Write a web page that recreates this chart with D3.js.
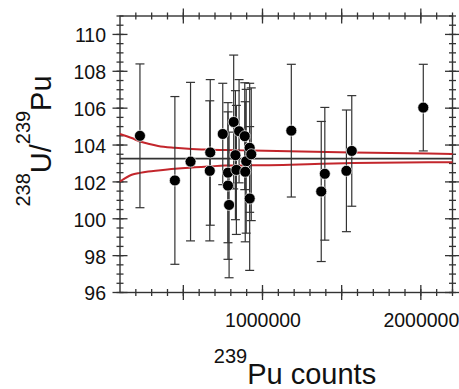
<!DOCTYPE html>
<html>
<head>
<meta charset="utf-8">
<script src="https://cdn.jsdelivr.net/npm/d3@7"></script>
<style>
  body { margin: 0; background: #fff; }
  svg text { font-family: "Liberation Sans", Arial, sans-serif; fill: #111; }
</style>
</head>
<body>
<div id="chart"></div>
<script>
// 239Pu counts for each measurement
var puCounts = [226000, 446600, 545500, 670000, 667000, 749000, 782000, 782000, 789000,
	818000, 829000, 835000, 852000, 888000, 897000, 891000, 919000, 929000, 919000,
	1182000, 1371000, 1393600, 1530000, 1563800, 2015500];
// 238U/239Pu ratio
var ratio = [104.5, 102.08, 103.1, 103.6, 102.6, 104.6, 102.5, 101.8, 100.75,
	105.25, 103.45, 102.65, 104.75, 104.48, 103.12, 102.55, 103.85, 103.5, 101.1,
	104.78, 101.48, 102.44, 102.6, 103.68, 106.03];
// half length of error bars
var ratioErr = [3.9, 4.55, 4.3, 3.95, 3.8, 2.75, 3.8, 4.0, 3.95,
	3.63, 3.5, 3.5, 2.8, 2.9, 3.9, 3.8, 3.5, 3.6, 3.9,
	3.6, 3.8, 3.6, 3.3, 3.0, 2.35];

var meanRatio = 103.26;

// red band
var bandX = [100000, 173700, 226000, 278300, 341000, 446600, 488800, 614800, 656400, 761600, 938000, 1568000, 2200000];
var bandUpper = [104.6, 104.38, 104.19, 104.07, 103.95, 103.85, 103.82, 103.76, 103.75, 103.73, 103.7, 103.59, 103.52];
var bandLower = [102.02, 102.39, 102.49, 102.56, 102.62, 102.71, 102.74, 102.81, 102.83, 102.89, 102.9, 103.02, 103.07];

var yMajorTicks = [96, 98, 100, 102, 104, 106, 108, 110];
var yMinorTicks = d3.range(96, 111.01, 0.5);
var xMajorTicks = [500000, 1000000, 1500000, 2000000];
var xMinorTicks = d3.range(200000, 2200001, 100000);
var xLabelTicks = [1000000, 2000000];

var width = 459, height = 389;
var margin = {top: 16, right: 6.5, bottom: 96.5, left: 120};
var w = width - margin.left - margin.right,
	h = height - margin.top - margin.bottom;

var svg = d3.select("#chart").append("svg")
	.attr("width", width)
	.attr("height", height);

var g = svg.append("g")
	.attr("transform", "translate(" + margin.left + "," + margin.top + ")");

var x = d3.scaleLinear().domain([100000, 2200000]).range([0, w]);
var y = d3.scaleLinear().domain([96, 111]).range([h, 0]);

var axisColor = "#333";
var major = 7.5, minor = 3.5;

// ticks that cross the frame
function crossTicks(vals, len, horizontal, pos){
	g.append("g").selectAll("line")
		.data(vals)
		.enter().append("line")
		.attr("x1", function(d){ return horizontal ? pos - len : x(d); })
		.attr("x2", function(d){ return horizontal ? pos + len : x(d); })
		.attr("y1", function(d){ return horizontal ? y(d) : pos - len; })
		.attr("y2", function(d){ return horizontal ? y(d) : pos + len; })
		.attr("stroke", axisColor)
		.attr("stroke-width", 1.3);
}

crossTicks(yMinorTicks, minor, true, 0);
crossTicks(yMajorTicks, major, true, 0);
crossTicks(yMinorTicks, minor, true, w);
crossTicks(yMajorTicks, major, true, w);
crossTicks(xMinorTicks, minor, false, 0);
crossTicks(xMajorTicks, major, false, 0);
crossTicks(xMinorTicks, minor, false, h);
crossTicks(xMajorTicks, major, false, h);

// frame
g.append("rect")
	.attr("width", w)
	.attr("height", h)
	.attr("fill", "none")
	.attr("stroke", axisColor)
	.attr("stroke-width", 1.4);

// tick labels via axes
var yAxis = g.append("g")
	.call(d3.axisLeft(y).tickValues(yMajorTicks).tickSize(0).tickPadding(14));
yAxis.select(".domain").remove();
yAxis.selectAll("text")
	.style("font-size", "19.5px")
	.style("font-family", "Liberation Sans, Arial, sans-serif")
	.attr("dy", "0.38em");

var xAxis = g.append("g")
	.attr("transform", "translate(0," + h + ")")
	.call(d3.axisBottom(x).tickValues(xLabelTicks).tickSize(0).tickFormat(d3.format("d")));
xAxis.select(".domain").remove();
xAxis.selectAll("text")
	.style("font-size", "19.5px")
	.style("font-family", "Liberation Sans, Arial, sans-serif")
	.attr("y", 34)
	.attr("dy", 0);

// red band
var bandUp = bandX.map(function(d, i){ return [d, bandUpper[i]]; });
var bandLo = bandX.map(function(d, i){ return [d, bandLower[i]]; });
var bandLine = d3.line()
	.x(function(d){ return x(d[0]); })
	.y(function(d){ return y(d[1]); })
	.curve(d3.curveMonotoneX);

g.append("path").datum(bandUp)
	.attr("d", bandLine)
	.attr("fill", "none")
	.attr("stroke", "#c3262c")
	.attr("stroke-width", 2);
g.append("path").datum(bandLo)
	.attr("d", bandLine)
	.attr("fill", "none")
	.attr("stroke", "#c3262c")
	.attr("stroke-width", 2);

// mean line
g.append("line")
	.attr("x1", 0).attr("x2", w)
	.attr("y1", y(meanRatio)).attr("y2", y(meanRatio))
	.attr("stroke", "#333")
	.attr("stroke-width", 1.6);

var data = puCounts.map(function(d, i){ return {x: d, y: ratio[i], e: ratioErr[i]}; });

// error bars
var bars = g.append("g").selectAll("g")
	.data(data)
	.enter().append("g")
	.attr("stroke", "#333")
	.attr("stroke-width", 1.2);

bars.append("line")
	.attr("x1", function(d){ return x(d.x); })
	.attr("x2", function(d){ return x(d.x); })
	.attr("y1", function(d){ return y(d.y - d.e); })
	.attr("y2", function(d){ return y(d.y + d.e); });
bars.append("line")
	.attr("x1", function(d){ return x(d.x) - 4.5; })
	.attr("x2", function(d){ return x(d.x) + 4.5; })
	.attr("y1", function(d){ return y(d.y + d.e); })
	.attr("y2", function(d){ return y(d.y + d.e); });
bars.append("line")
	.attr("x1", function(d){ return x(d.x) - 4.5; })
	.attr("x2", function(d){ return x(d.x) + 4.5; })
	.attr("y1", function(d){ return y(d.y - d.e); })
	.attr("y2", function(d){ return y(d.y - d.e); });

// points
g.append("g").selectAll("circle")
	.data(data)
	.enter().append("circle")
	.attr("cx", function(d){ return x(d.x); })
	.attr("cy", function(d){ return y(d.y); })
	.attr("r", 5.5)
	.attr("fill", "#000")
	.attr("stroke", "#fff")
	.attr("stroke-width", 0.7);

// axis titles
var xt = svg.append("text")
	.attr("x", 295)
	.attr("y", 384)
	.attr("text-anchor", "middle");
xt.append("tspan").attr("dy", -21).style("font-size", "20px").text("239");
xt.append("tspan").attr("dy", 21).style("font-size", "29px").text("Pu counts");

var yt = svg.append("text")
	.attr("transform", "translate(51,141) rotate(-90)")
	.attr("text-anchor", "middle");
yt.append("tspan").attr("dy", -21).style("font-size", "20px").text("238");
yt.append("tspan").attr("dy", 21).style("font-size", "29px").text("U/");
yt.append("tspan").attr("dy", -21).style("font-size", "20px").text("239");
yt.append("tspan").attr("dy", 21).style("font-size", "29px").text("Pu");
</script>
</body>
</html>
